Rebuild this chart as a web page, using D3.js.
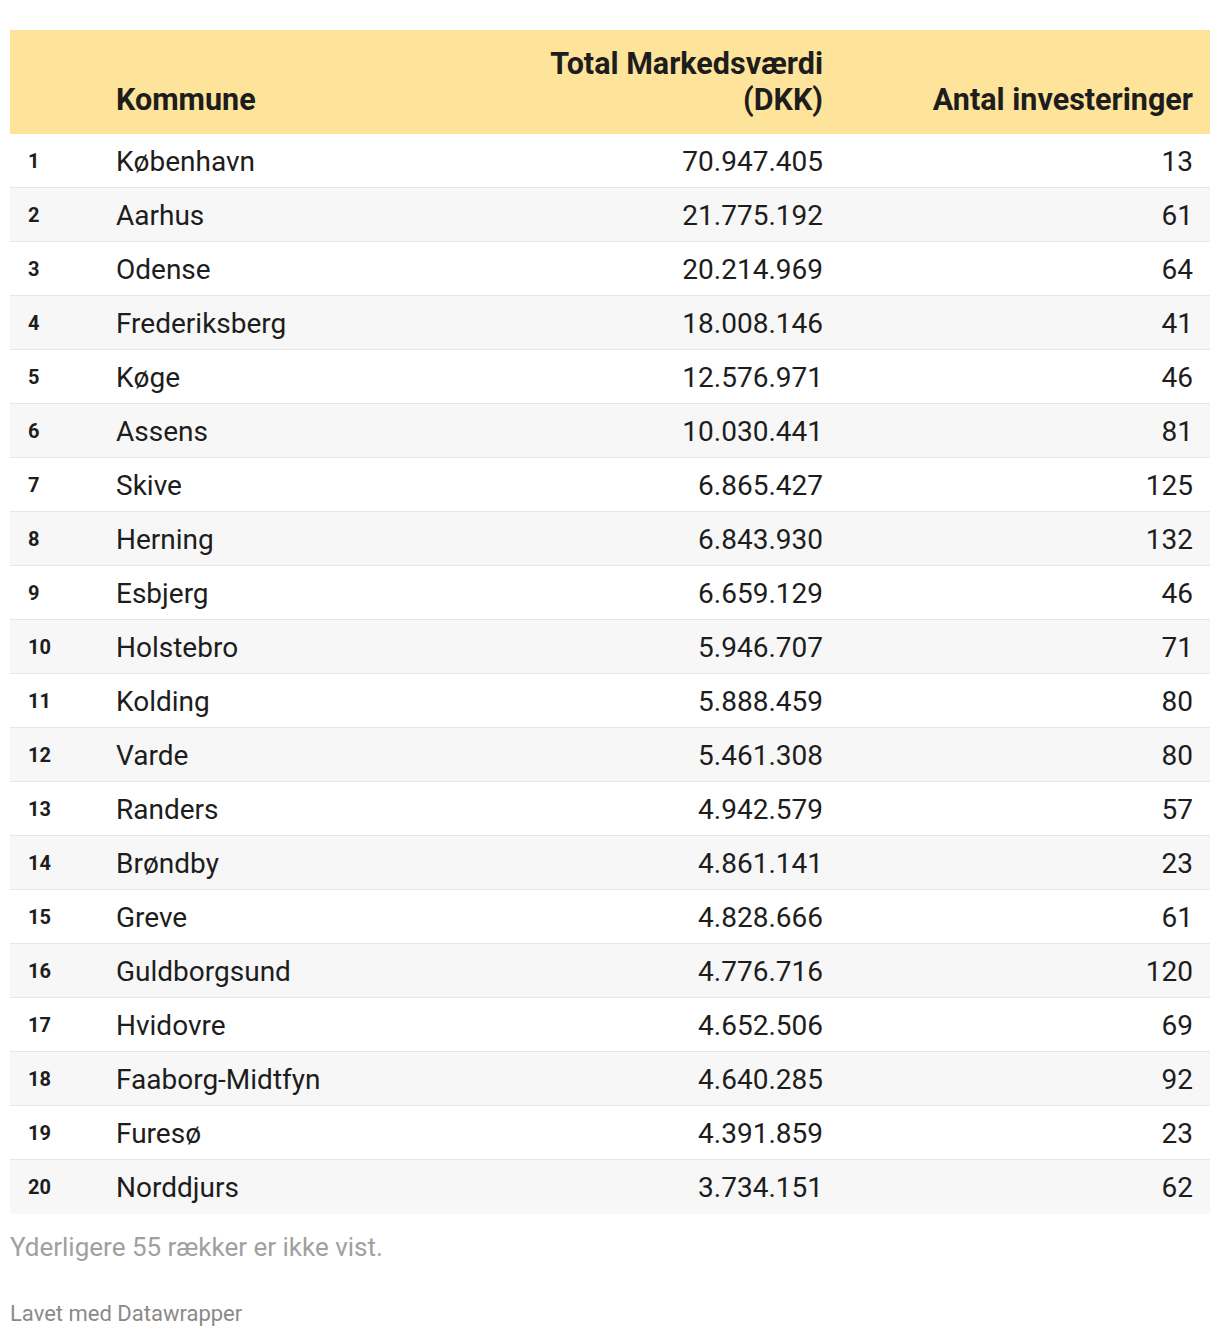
<!DOCTYPE html>
<html>
<head>
<meta charset="utf-8">
<script src="https://cdn.jsdelivr.net/npm/d3@7"></script>
<style>
  body { margin: 0; background: #fff; }
  svg text { font-family: Roboto, "Open Sans", sans-serif; }
</style>
</head>
<body>
<div id="table_viz"></div>
<script>

// data
var kommuner = ["København", "Aarhus", "Odense", "Frederiksberg", "Køge", "Assens", "Skive", "Herning", "Esbjerg", "Holstebro",
    "Kolding", "Varde", "Randers", "Brøndby", "Greve", "Guldborgsund", "Hvidovre", "Faaborg-Midtfyn", "Furesø", "Norddjurs"];
var markedsvaerdi = [70947405, 21775192, 20214969, 18008146, 12576971, 10030441, 6865427, 6843930, 6659129, 5946707,
    5888459, 5461308, 4942579, 4861141, 4828666, 4776716, 4652506, 4640285, 4391859, 3734151];
var investeringer = [13, 61, 64, 41, 46, 81, 125, 132, 46, 71, 80, 80, 57, 23, 61, 120, 69, 92, 23, 62];
var headers = ["", "Kommune", "Total Markedsværdi|(DKK)", "Antal investeringer"];
var note = "Yderligere 55 rækker er ikke vist.";
var credit = "Lavet med Datawrapper";

var width = 1220, height = 1338;
var left = 10, right = 1210;
var headTop = 30, headBottom = 134, rowH = 54;

var rows = kommuner.map(function(d, i) {
    return { rank: i + 1, name: d, value: markedsvaerdi[i], count: investeringer[i] };
});

var y = d3.scaleBand()
    .domain(rows.map(function(d) { return d.rank; }))
    .range([headBottom, headBottom + rowH * rows.length])
    .padding(0);

var danish = d3.formatLocale({ decimal: ",", thousands: ".", grouping: [3], currency: ["", " kr"] });
var fmt = danish.format(",d");

var svg = d3.select("#table_viz")
    .append("svg")
    .attr("width", width)
    .attr("height", height);

// header
svg.append("rect")
    .attr("x", left).attr("y", headTop)
    .attr("width", right - left).attr("height", headBottom - headTop)
    .attr("fill", "#fee49b");

var colX = [28, 116, 823, 1193];
var colAnchor = ["start", "start", "end", "end"];

headers.forEach(function(h, c) {
    var lines = h.split("|");
    lines.forEach(function(line, k) {
        svg.append("text")
            .attr("x", colX[c])
            .attr("y", 110 - (lines.length - 1 - k) * 36)
            .attr("text-anchor", colAnchor[c])
            .style("font-size", "30.5px")
            .style("font-weight", "700")
            .style("fill", "#1d1d1d")
            .text(line);
    });
});

// rows
var row = svg.selectAll(".row")
    .data(rows)
    .enter().append("g")
    .attr("class", "row")
    .attr("transform", function(d) { return "translate(0," + y(d.rank) + ")"; });

row.append("rect")
    .attr("x", left).attr("width", right - left)
    .attr("height", y.bandwidth())
    .attr("fill", function(d) { return d.rank % 2 === 0 ? "#f7f7f7" : "#ffffff"; });

row.filter(function(d) { return d.rank < rows.length; })
    .append("rect")
    .attr("x", left).attr("width", right - left)
    .attr("y", y.bandwidth() - 1).attr("height", 2)
    .attr("fill", "#e6e6e6");

row.append("text")
    .attr("x", colX[0])
    .attr("y", y.bandwidth() / 2)
    .attr("dy", "0.35em")
    .style("font-size", "20px")
    .style("font-weight", "700")
    .style("fill", "#1d1d1d")
    .text(function(d) { return d.rank; });

row.append("text")
    .attr("x", colX[1])
    .attr("y", y.bandwidth() / 2)
    .attr("dy", "0.35em")
    .style("font-size", "28px")
    .style("fill", "#1d1d1d")
    .text(function(d) { return d.name; });

row.append("text")
    .attr("x", colX[2])
    .attr("y", y.bandwidth() / 2)
    .attr("dy", "0.35em")
    .attr("text-anchor", "end")
    .style("font-size", "28px")
    .style("fill", "#1d1d1d")
    .text(function(d) { return fmt(d.value); });

row.append("text")
    .attr("x", colX[3])
    .attr("y", y.bandwidth() / 2)
    .attr("dy", "0.35em")
    .attr("text-anchor", "end")
    .style("font-size", "28px")
    .style("fill", "#1d1d1d")
    .text(function(d) { return d.count; });

// footer
svg.append("text")
    .attr("x", left).attr("y", 1256)
    .style("font-size", "26px")
    .style("fill", "#a0a0a0")
    .text(note);

svg.append("text")
    .attr("x", left).attr("y", 1321)
    .style("font-size", "22px")
    .style("fill", "#8a8a8a")
    .text(credit);

</script>
</body>
</html>
